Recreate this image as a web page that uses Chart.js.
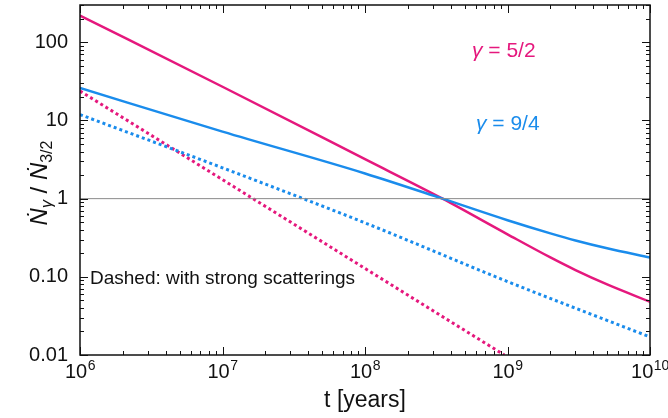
<!DOCTYPE html>
<html>
<head>
<meta charset="utf-8">
<script src="https://cdn.jsdelivr.net/npm/chart.js@4.4.1/dist/chart.umd.min.js"></script>
<style>
  html, body { margin: 0; padding: 0; background: #fff; }
  #wrap { width: 668px; height: 418px; }
</style>
</head>
<body>
<div id="wrap"><canvas id="chart"></canvas></div>
<script>
// t [years] and Ndot_gamma / Ndot_3/2
const tMagSolid = [1e6, 1e7, 1e8, 3.5e8, 1e9, 2e9, 3e9, 5e9, 1e10];
const nMagSolid = [220, 27, 3.2, 1.0, 0.35, 0.177, 0.122, 0.080, 0.048];
const tBlueSolid = [1e6, 1e7, 1e8, 3.5e8, 1e9, 2e9, 3e9, 5e9, 1e10];
const nBlueSolid = [26, 7.2, 2.1, 1.0, 0.53, 0.36, 0.292, 0.232, 0.177];
const tMagDot = [1e6, 1e7, 1e8, 9.5e8];
const nMagDot = [23.8, 1.75, 0.128, 0.01];
const tBlueDot = [1e6, 1e7, 1e8, 1e9, 1e10];
const nBlueDot = [11.9, 2.48, 0.49, 0.087, 0.017];
const tUnity = [1e6, 1e10];
const nUnity = [1, 1];

// tick labels
const xDecades = [1e6, 1e7, 1e8, 1e9, 1e10];
const xExponents = ["6", "7", "8", "9", "10"];
const yTickValues = [0.01, 0.1, 1, 10, 100];
const yTickLabels = ["0.01", "0.10", "1", "10", "100"];

const MAGENTA = "#e5187d";
const BLUE = "#1a8cec";
const FONT = "'Liberation Sans', Arial, sans-serif";

function pts(xs, ys) {
  return xs.map((x, i) => ({ x: x, y: ys[i] }));
}

// all 1..9 x 10^n values between min and max (major + minor)
function logTicks(min, max) {
  const out = [];
  for (let e = Math.floor(Math.log10(min)); e <= Math.ceil(Math.log10(max)); e++) {
    for (let m = 1; m <= 9; m++) {
      const v = parseFloat((m * Math.pow(10, e)).toPrecision(3));
      if (v >= min * 0.999 && v <= max * 1.001) out.push({ value: v, major: m === 1 });
    }
  }
  return out;
}

// frame + inward ticks on all four sides
const frameTicks = {
  id: "frameTicks",
  afterDatasetsDraw(chart) {
    const { ctx, chartArea: a, scales } = chart;
    ctx.save();
    ctx.strokeStyle = "#111";
    ctx.lineWidth = 1;
    ctx.beginPath();
    scales.x.ticks.forEach(t => {
      const px = Math.round(scales.x.getPixelForValue(t.value)) + 0.5;
      const len = t.major ? 8 : 4;
      ctx.moveTo(px, a.bottom); ctx.lineTo(px, a.bottom - len);
      ctx.moveTo(px, a.top); ctx.lineTo(px, a.top + len);
    });
    scales.y.ticks.forEach(t => {
      const py = Math.round(scales.y.getPixelForValue(t.value)) + 0.5;
      const len = t.major ? 8 : 4;
      ctx.moveTo(a.left, py); ctx.lineTo(a.left + len, py);
      ctx.moveTo(a.right, py); ctx.lineTo(a.right - len, py);
    });
    ctx.stroke();
    ctx.lineWidth = 1.5;
    ctx.strokeRect(a.left, a.top, a.right - a.left, a.bottom - a.top);
    ctx.restore();
  }
};

// x tick labels with superscripts, y axis title, annotations
const textLayer = {
  id: "textLayer",
  afterDraw(chart) {
    const { ctx, chartArea: a, scales } = chart;
    ctx.save();
    ctx.fillStyle = "#111";
    ctx.textBaseline = "alphabetic";

    // 10^n labels
    xDecades.forEach((v, i) => {
      const px = scales.x.getPixelForValue(v);
      ctx.font = "20px " + FONT;
      const wb = ctx.measureText("10").width;
      ctx.font = "14px " + FONT;
      const we = ctx.measureText(xExponents[i]).width;
      const x0 = px - (wb + we) / 2;
      ctx.textAlign = "left";
      ctx.font = "20px " + FONT;
      ctx.fillText("10", x0, a.bottom + 23);
      ctx.font = "14px " + FONT;
      ctx.fillText(xExponents[i], x0 + wb + 0.5, a.bottom + 15);
    });

    // y title: Ndot_gamma / Ndot_3/2
    const pieces = [
      { s: "Ṅ", f: "italic 24px " + FONT, dy: 0 },
      { s: "γ", f: "italic 16px " + FONT, dy: 5 },
      { s: " / ", f: "24px " + FONT, dy: 0 },
      { s: "Ṅ", f: "italic 24px " + FONT, dy: 0 },
      { s: "3/2", f: "16px " + FONT, dy: 5 }
    ];
    let total = 0;
    pieces.forEach(p => { ctx.font = p.f; p.w = ctx.measureText(p.s).width; total += p.w; });
    ctx.translate(47, 183);
    ctx.rotate(-Math.PI / 2);
    let cx = -total / 2;
    ctx.textAlign = "left";
    pieces.forEach(p => {
      ctx.font = p.f;
      ctx.fillText(p.s, cx, p.dy);
      cx += p.w;
    });
    ctx.setTransform(1, 0, 0, 1, 0, 0);

    // series labels
    ctx.textAlign = "left";
    function gammaLabel(txt, color, x, y) {
      ctx.fillStyle = color;
      ctx.font = "italic 21px " + FONT;
      ctx.fillText("γ", x, y);
      const w = ctx.measureText("γ").width;
      ctx.font = "21px " + FONT;
      ctx.fillText(txt, x + w, y);
    }
    gammaLabel(" = 5/2", MAGENTA, 472, 57);
    gammaLabel(" = 9/4", BLUE, 476, 130);

    ctx.fillStyle = "#111";
    ctx.font = "19px " + FONT;
    ctx.fillText("Dashed: with strong scatterings", 90, 284);
    ctx.restore();
  }
};

new Chart(document.getElementById("chart"), {
  type: "line",
  data: {
    datasets: [
      {
        label: "unity",
        data: pts(tUnity, nUnity),
        borderColor: "#8a8a8a",
        borderWidth: 1,
        pointRadius: 0
      },
      {
        label: "γ = 9/4 (strong scatterings)",
        data: pts(tBlueDot, nBlueDot),
        borderColor: BLUE,
        borderWidth: 3,
        borderDash: [3, 3],
        cubicInterpolationMode: "monotone",
        pointRadius: 0
      },
      {
        label: "γ = 5/2 (strong scatterings)",
        data: pts(tMagDot, nMagDot),
        borderColor: MAGENTA,
        borderWidth: 3,
        borderDash: [3, 3],
        cubicInterpolationMode: "monotone",
        pointRadius: 0
      },
      {
        label: "γ = 9/4",
        data: pts(tBlueSolid, nBlueSolid),
        borderColor: BLUE,
        borderWidth: 2.5,
        cubicInterpolationMode: "monotone",
        pointRadius: 0
      },
      {
        label: "γ = 5/2",
        data: pts(tMagSolid, nMagSolid),
        borderColor: MAGENTA,
        borderWidth: 2.5,
        cubicInterpolationMode: "monotone",
        pointRadius: 0
      }
    ]
  },
  options: {
    responsive: true,
    maintainAspectRatio: false,
    animation: false,
    layout: { padding: { left: 0, right: 18, top: 5, bottom: 0 } },
    plugins: {
      legend: { display: false },
      tooltip: { enabled: false }
    },
    scales: {
      x: {
        type: "logarithmic",
        min: 1e6,
        max: 1e10,
        afterBuildTicks: s => { s.ticks = logTicks(1e6, 1e10); },
        afterFit: s => { s.height = 63; s.paddingLeft = 0; s.paddingRight = 0; },
        ticks: { display: false },
        grid: { display: false },
        border: { display: false },
        title: {
          display: true,
          text: "t [years]",
          color: "#111",
          font: { family: FONT, size: 23 },
          padding: { top: 0, bottom: 4 }
        }
      },
      y: {
        type: "logarithmic",
        min: 0.01,
        max: 300,
        afterBuildTicks: s => { s.ticks = logTicks(0.01, 300); },
        afterFit: s => { s.width = 80; s.paddingTop = 0; s.paddingBottom = 0; },
        ticks: {
          autoSkip: false,
          padding: 4,
          color: "#111",
          font: { family: FONT, size: 20 },
          callback: v => {
            const i = yTickValues.findIndex(t => Math.abs(t - v) / t < 1e-6);
            return i >= 0 ? yTickLabels[i] : "";
          }
        },
        grid: { display: false },
        border: { display: false }
      }
    }
  },
  plugins: [frameTicks, textLayer]
});
</script>
</body>
</html>
